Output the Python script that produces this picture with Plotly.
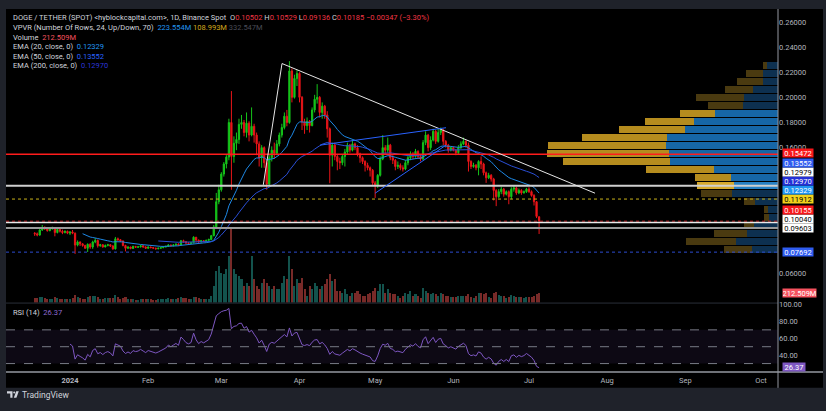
import plotly.graph_objects as go
import pandas as pd

# ---------------- DATA ----------------
START_DATE = "2023-12-18"
FIRST_OPEN = 0.0920
LAST_OPEN = 0.10502

CLOSE_DEC = [0.0915,0.0905,0.0945,0.0965,0.0955,0.0940,0.0955,0.0962,0.0925,0.0950,0.0935,0.0925,0.0935,0.0920]
HIGH_DEC  = [0.0928,0.0925,0.0952,0.0985,0.0975,0.0962,0.0963,0.0972,0.0966,0.0958,0.0955,0.0948,0.0942,0.0940]
LOW_DEC   = [0.0898,0.0895,0.0900,0.0938,0.0945,0.0932,0.0935,0.0948,0.0895,0.0918,0.0925,0.0912,0.0918,0.0912]

CLOSE_JAN = [0.0930,0.0920,0.0825,0.0850,0.0835,0.0822,0.0800,0.0832,0.0810,0.0850,0.0862,0.0820,0.0828,0.0810,0.0822,0.0828,
             0.0818,0.0795,0.0875,0.0868,0.0858,0.0822,0.0800,0.0810,0.0798,0.0815,0.0808,0.0811,0.0820,0.0810,0.0800]
HIGH_JAN  = [0.0935,0.0945,0.0925,0.0862,0.0855,0.0840,0.0828,0.0838,0.0840,0.0860,0.0880,0.0870,0.0835,0.0832,0.0830,0.0835,
             0.0832,0.0825,0.0890,0.0885,0.0872,0.0862,0.0828,0.0815,0.0812,0.0820,0.0818,0.0816,0.0826,0.0825,0.0815]
LOW_JAN   = [0.0905,0.0912,0.0755,0.0815,0.0818,0.0812,0.0795,0.0770,0.0795,0.0795,0.0840,0.0805,0.0812,0.0805,0.0808,0.0815,
             0.0810,0.0788,0.0790,0.0858,0.0850,0.0815,0.0775,0.0795,0.0792,0.0795,0.0803,0.0802,0.0806,0.0805,0.0795]

CLOSE_FEB = [0.0810,0.0805,0.0801,0.0796,0.0800,0.0805,0.0810,0.0815,0.0826,0.0820,0.0826,0.0832,0.0826,0.0860,0.0852,
             0.0842,0.0838,0.0843,0.0888,0.0865,0.0850,0.0860,0.0855,0.0863,0.0870,0.0900,0.0970,0.1170,0.1265]
HIGH_FEB  = [0.0814,0.0813,0.0808,0.0804,0.0806,0.0809,0.0814,0.0820,0.0832,0.0829,0.0832,0.0838,0.0840,0.0866,0.0868,
             0.0858,0.0848,0.0850,0.0895,0.0890,0.0868,0.0866,0.0864,0.0868,0.0876,0.0906,0.0985,0.1240,0.1305]
LOW_FEB   = [0.0796,0.0800,0.0797,0.0790,0.0792,0.0797,0.0800,0.0807,0.0812,0.0816,0.0816,0.0818,0.0818,0.0822,0.0845,
             0.0835,0.0826,0.0834,0.0840,0.0845,0.0836,0.0846,0.0848,0.0850,0.0858,0.0862,0.0895,0.0955,0.1150]

CLOSE_MAR = [0.1390,0.1470,0.1525,0.1800,0.1530,0.1635,0.1665,0.1785,0.1800,0.1720,0.1795,0.1700,0.1770,0.1700,0.1630,0.1520,
             0.1600,0.1480,0.1310,0.1520,0.1580,0.1555,0.1630,0.1700,0.1760,0.1850,0.1800,0.2210,0.2000,0.2150,0.2190]
HIGH_MAR  = [0.1405,0.1485,0.1540,0.1830,0.2050,0.1690,0.1720,0.1830,0.1860,0.1820,0.1880,0.1810,0.1920,0.1790,0.1720,0.1650,
             0.1620,0.1610,0.1500,0.1540,0.1610,0.1640,0.1660,0.1720,0.1790,0.1880,0.1900,0.2288,0.2230,0.2180,0.2220]
LOW_MAR   = [0.1250,0.1370,0.1435,0.1500,0.1265,0.1480,0.1580,0.1630,0.1750,0.1690,0.1680,0.1650,0.1690,0.1640,0.1540,0.1450,
             0.1440,0.1440,0.1265,0.1300,0.1490,0.1510,0.1540,0.1610,0.1680,0.1745,0.1770,0.1790,0.1960,0.1990,0.2090]

CLOSE_APR = [0.2000,0.1805,0.1775,0.1810,0.1775,0.1900,0.1985,0.2000,0.1880,0.1930,0.1860,0.1750,0.1540,0.1620,0.1530,
             0.1490,0.1480,0.1530,0.1565,0.1620,0.1580,0.1630,0.1600,0.1550,0.1520,0.1490,0.1460,0.1440,0.1420,0.1320]
HIGH_APR  = [0.2200,0.2010,0.1830,0.1840,0.1820,0.1920,0.2020,0.2105,0.2010,0.1960,0.1940,0.1890,0.1760,0.1640,0.1640,
             0.1550,0.1520,0.1550,0.1590,0.1640,0.1630,0.1660,0.1640,0.1620,0.1560,0.1530,0.1500,0.1480,0.1450,0.1430]
LOW_APR   = [0.1960,0.1740,0.1710,0.1740,0.1720,0.1770,0.1880,0.1950,0.1840,0.1830,0.1830,0.1680,0.1317,0.1450,0.1500,
             0.1420,0.1430,0.1460,0.1450,0.1550,0.1560,0.1570,0.1580,0.1530,0.1480,0.1470,0.1410,0.1420,0.1370,0.1300]

CLOSE_MAY = [0.1300,0.1380,0.1510,0.1600,0.1580,0.1620,0.1520,0.1500,0.1450,0.1460,0.1440,0.1430,0.1480,0.1520,0.1550,0.1530,
             0.1570,0.1530,0.1510,0.1640,0.1700,0.1600,0.1660,0.1730,0.1650,0.1720,0.1740,0.1650,0.1620,0.1580,0.1600]
HIGH_MAY  = [0.1335,0.1390,0.1530,0.1700,0.1620,0.1680,0.1630,0.1540,0.1510,0.1490,0.1475,0.1460,0.1500,0.1540,0.1570,0.1565,
             0.1590,0.1580,0.1545,0.1660,0.1730,0.1710,0.1690,0.1750,0.1740,0.1750,0.1760,0.1750,0.1660,0.1630,0.1610]
LOW_MAY   = [0.1200,0.1280,0.1370,0.1500,0.1550,0.1560,0.1500,0.1470,0.1420,0.1430,0.1420,0.1410,0.1420,0.1460,0.1500,0.1510,
             0.1520,0.1510,0.1490,0.1500,0.1620,0.1570,0.1580,0.1650,0.1630,0.1640,0.1700,0.1620,0.1600,0.1560,0.1570]

CLOSE_JUN = [0.1580,0.1560,0.1600,0.1630,0.1650,0.1620,0.1490,0.1450,0.1460,0.1440,0.1490,0.1470,0.1400,0.1360,0.1380,
             0.1350,0.1260,0.1210,0.1250,0.1270,0.1230,0.1250,0.1210,0.1270,0.1280,0.1240,0.1260,0.1240,0.1250,0.1270]
HIGH_JUN  = [0.1610,0.1590,0.1620,0.1650,0.1680,0.1660,0.1640,0.1500,0.1480,0.1470,0.1500,0.1530,0.1480,0.1410,0.1400,
             0.1390,0.1360,0.1270,0.1270,0.1290,0.1280,0.1260,0.1260,0.1285,0.1300,0.1290,0.1275,0.1270,0.1260,0.1280]
LOW_JUN   = [0.1570,0.1540,0.1550,0.1590,0.1620,0.1600,0.1410,0.1430,0.1440,0.1420,0.1380,0.1430,0.1380,0.1320,0.1350,
             0.1330,0.1180,0.1135,0.1200,0.1230,0.1210,0.1220,0.1150,0.1190,0.1250,0.1225,0.1230,0.1225,0.1235,0.1240]

CLOSE_JUL = [0.1250,0.1220,0.1170,0.105324,0.10185]
HIGH_JUL  = [0.1285,0.1260,0.1230,0.1175,0.10529]
LOW_JUL   = [0.1240,0.1210,0.1140,0.1040,0.09136]

# daily volume, millions
VOL_DEC = [100,95,110,120,90,80,75,85,110,90,85,80,70,75]
VOL_JAN = [80,90,160,120,100,80,75,120,140,150,150,130,80,85,90,95,90,100,170,110,80,100,120,85,80,85,60,65,80,80,85]
VOL_FEB = [80,75,60,60,75,75,80,85,90,70,70,85,90,120,100,90,75,70,130,110,95,85,80,70,80,150,360,680,790]
VOL_MAR = [640,610,720,1000,1570,720,610,570,500,360,430,360,1000,500,360,300,430,500,430,360,300,360,300,300,430,570,500,1000,720,360,500]
VOL_APR = [430,530,300,150,360,300,430,360,300,360,400,510,620,470,510,255,255,210,300,190,150,210,210,255,190,150,150,190,210,255]
VOL_MAY = [320,255,400,400,210,300,210,190,190,150,105,150,210,190,255,150,190,150,105,320,255,210,190,210,190,150,210,190,150,150,130]
VOL_JUN = [110,120,150,140,150,150,190,130,100,140,210,210,190,210,110,100,210,230,170,150,140,100,130,170,140,120,120,130,90,110]
VOL_JUL = [130,120,150,190,212.509]

# Volume profile (24 rows, bottom -> top), up (blue) and down (yellow) volume
VP_UP   = [25.7,41.7,30.7,24.3,9.3,10.0,23.3,46.0,44.3,47.3,64.3,107.7,109.0,112.3,111.0,92.7,84.3,62.7,35.0,34.3,25.0,15.0,15.0,10.7]
VP_DOWN = [28.7,50.0,33.7,10.0,4.7,4.3,11.0,31.3,36.7,36.0,67.3,107.3,122.0,117.7,84.7,66.3,49.0,35.7,35.0,48.0,27.7,26.0,16.7,4.3]
VA_ROWS = list(range(8, 18))
HOVER_ROW = 8

# horizontal price levels
LEVELS = [
    (0.15472, "#ff1c1c", 1.5, "solid"),
    (0.12979, "#cfcfcf", 2.0, "solid"),
    (0.11912, "#c9b21a", 1.0, "dot"),
    (0.10155, "#c3161c", 1.0, "dot"),
    (0.10040, "#e8e8e8", 1.5, "solid"),
    (0.09603, "#9a9a9a", 2.0, "solid"),
    (0.07692, "#2c4bd0", 1.0, "dot"),
]
# trend line drawings (date, price)
TREND_WHITE = [("2024-03-17 15:36", 0.13043), ("2024-03-25 01:30", 0.22688), ("2024-07-27 04:30", 0.12380)]
TREND_BLUE = [
    [("2024-04-09 03:00", 0.16197), ("2024-05-29 02:24", 0.17585)],
    [("2024-05-01 00:00", 0.12380), ("2024-05-29 02:24", 0.16200)],
]

# values shown in legend / price scale
EMA_LAST = {20: 0.12329, 50: 0.13552, 200: 0.12970}
RSI_LAST = 26.37
VPVR_LEG = ("223.554M", "108.993M", "332.547M")
AXIS_LABELS = [
    (0.15472, "#f7171a", "#ffffff"),
    (0.13552, "#2f5cf0", "#ffffff"),
    (0.12979, "#ffffff", "#000000"),
    (0.12970, "#2430d8", "#ffffff"),
    (0.12329, "#2196f3", "#ffffff"),
    (0.11912, "#f2d21b", "#000000"),
    (0.10155, "#f7171a", "#ffffff"),
    (0.10040, "#ffffff", "#000000"),
    (0.09603, "#ffffff", "#000000"),
    (0.07692, "#2f5cf0", "#ffffff"),
]
PRICE_TICKS = [0.06, 0.16, 0.18, 0.20, 0.22, 0.24, 0.26]
RSI_TICKS = [40, 60, 80, 100]
MONTH_TICKS = ["2024-01-01","2024-02-01","2024-03-01","2024-04-01","2024-05-01","2024-06-01",
               "2024-07-01","2024-08-01","2024-09-01","2024-10-01"]
MONTH_TEXT = ["<b>2024</b>","Feb","Mar","Apr","May","Jun","Jul","Aug","Sep","Oct"]

# ---------------- assemble ----------------
CLOSE = CLOSE_DEC + CLOSE_JAN + CLOSE_FEB + CLOSE_MAR + CLOSE_APR + CLOSE_MAY + CLOSE_JUN + CLOSE_JUL
HIGH = HIGH_DEC + HIGH_JAN + HIGH_FEB + HIGH_MAR + HIGH_APR + HIGH_MAY + HIGH_JUN + HIGH_JUL
LOW = LOW_DEC + LOW_JAN + LOW_FEB + LOW_MAR + LOW_APR + LOW_MAY + LOW_JUN + LOW_JUL
VOL = VOL_DEC + VOL_JAN + VOL_FEB + VOL_MAR + VOL_APR + VOL_MAY + VOL_JUN + VOL_JUL
OPEN = [FIRST_OPEN] + CLOSE[:-1]
OPEN[-1] = LAST_OPEN
N = len(CLOSE)
assert len(HIGH) == N and len(LOW) == N and len(VOL) == N
DATES = pd.date_range(START_DATE, periods=N, freq="D")


def ema_tv(src, n):
    out = [None] * len(src)
    if len(src) < n:
        return out
    v = sum(src[:n]) / n
    out[n - 1] = v
    a = 2.0 / (n + 1)
    for i in range(n, len(src)):
        v = a * src[i] + (1 - a) * v
        out[i] = v
    return out


def rsi_tv(src, n=14):
    out = [None] * len(src)
    g = [0.0] + [max(src[i] - src[i - 1], 0) for i in range(1, len(src))]
    l = [0.0] + [max(src[i - 1] - src[i], 0) for i in range(1, len(src))]
    ag = sum(g[1:n + 1]) / n
    al = sum(l[1:n + 1]) / n
    out[n] = 100 - 100 / (1 + ag / al) if al else 100
    for i in range(n + 1, len(src)):
        ag = (ag * (n - 1) + g[i]) / n
        al = (al * (n - 1) + l[i]) / n
        out[i] = 100 - 100 / (1 + ag / al) if al else 100
    return out


EMA20 = ema_tv(CLOSE, 20)
EMA50 = ema_tv(CLOSE, 50)
RSI = rsi_tv(CLOSE, 14)

# ---------------- geometry ----------------
W, H = 826, 411
PL, PR, PT, PB = 6, 778, 6, 372
MAIN_BOT, RSI_TOP = 302, 303
P_RANGE = [0.03681, 0.27025]
RSI_RANGE = [20, 101.2]
VOL_TOP = 21.25 * (MAIN_BOT - PT)
X_RANGE = ["2023-12-06 14:53", "2024-10-07 17:46"]


def PX(x):
    return (x - PL) / (PR - PL)


def PY(y):
    return (PB - y) / (PB - PT)


def price_px(p):
    return PT + (P_RANGE[1] - p) / (P_RANGE[1] - P_RANGE[0]) * (MAIN_BOT - PT)


UI = "#d1d4dc"
AX = "#b2b5be"
FONT = "Roboto"
FS = 7.5

fig = go.Figure()

# volume profile
lo, hi = min(LOW), max(HIGH)
step = (hi - lo) / len(VP_UP)
centers = [lo + (i + 0.5) * step for i in range(len(VP_UP))]
up_col, dn_col = [], []
for i in range(len(VP_UP)):
    if i == HOVER_ROW:
        up_col.append("rgb(38,128,196)"); dn_col.append("rgb(214,170,46)")
    elif i in VA_ROWS:
        up_col.append("rgb(22,102,166)"); dn_col.append("rgb(181,140,30)")
    else:
        up_col.append("rgb(13,48,80)"); dn_col.append("rgb(74,58,16)")
fig.add_trace(go.Bar(orientation="h", y=centers, x=VP_UP, base=[0] * len(VP_UP), width=step * 0.86,
                     marker=dict(color=up_col, line=dict(width=0)), xaxis="x2", yaxis="y", hoverinfo="skip"))
fig.add_trace(go.Bar(orientation="h", y=centers, x=VP_DOWN, base=VP_UP, width=step * 0.86,
                     marker=dict(color=dn_col, line=dict(width=0)), xaxis="x2", yaxis="y", hoverinfo="skip"))

# volume bars
vcol = ["rgba(38,166,154,0.5)" if c >= o else "rgba(239,83,80,0.5)" for o, c in zip(OPEN, CLOSE)]
fig.add_trace(go.Bar(x=DATES, y=VOL, marker=dict(color=vcol, line=dict(width=0)), width=86400000 * 0.8,
                     xaxis="x", yaxis="y3", hoverinfo="skip"))

# candles
fig.add_trace(go.Candlestick(x=DATES, open=OPEN, high=HIGH, low=LOW, close=CLOSE,
                             increasing=dict(line=dict(color="#15c41a", width=1), fillcolor="#15c41a"),
                             decreasing=dict(line=dict(color="#ea1519", width=1), fillcolor="#ea1519"),
                             xaxis="x", yaxis="y", hoverinfo="skip"))
# EMAs
fig.add_trace(go.Scatter(x=DATES, y=EMA20, mode="lines", line=dict(color="#1e88e5", width=1), xaxis="x", yaxis="y"))
fig.add_trace(go.Scatter(x=DATES, y=EMA50, mode="lines", line=dict(color="#2a4fd6", width=1), xaxis="x", yaxis="y"))

# RSI
fig.add_trace(go.Scatter(x=DATES, y=RSI, mode="lines", line=dict(color="#7e57c2", width=1), xaxis="x3", yaxis="y4"))

shapes = []
# black chart background including axis areas
shapes.append(dict(type="rect", xref="paper", yref="paper", x0=0, x1=PX(823), y0=PY(388), y1=1,
                   fillcolor="#000000", line=dict(width=0), layer="below"))
# RSI band and levels
shapes.append(dict(type="rect", xref="paper", yref="y4", x0=0, x1=1, y0=30, y1=70,
                   fillcolor="rgba(126,87,194,0.10)", line=dict(width=0), layer="below"))
for lv in (70, 50, 30):
    shapes.append(dict(type="line", xref="paper", yref="y4", x0=0, x1=1, y0=lv, y1=lv,
                       line=dict(color="#787b86", width=1, dash="dash")))
# price levels
for p, c, w, d in LEVELS:
    shapes.append(dict(type="line", xref="paper", yref="y", x0=0, x1=1, y0=p, y1=p,
                       line=dict(color=c, width=w, dash=d)))
# trend lines
for (x0, y0), (x1, y1) in zip(TREND_WHITE[:-1], TREND_WHITE[1:]):
    shapes.append(dict(type="line", xref="x", yref="y", x0=x0, y0=y0, x1=x1, y1=y1,
                       line=dict(color="#e6e6e6", width=1)))
for (x0, y0), (x1, y1) in TREND_BLUE:
    shapes.append(dict(type="line", xref="x", yref="y", x0=x0, y0=y0, x1=x1, y1=y1,
                       line=dict(color="#2962ff", width=1)))
# pane separators and axis lines
shapes.append(dict(type="line", xref="paper", yref="paper", x0=0, x1=1, y0=PY(302.5), y1=PY(302.5),
                   line=dict(color="#2a2e39", width=1)))
shapes.append(dict(type="line", xref="paper", yref="paper", x0=0, x1=PX(823), y0=PY(372), y1=PY(372),
                   line=dict(color="#9598a1", width=1.5)))
shapes.append(dict(type="line", xref="paper", yref="paper", x0=1, x1=1, y0=PY(388), y1=1,
                   line=dict(color="#9598a1", width=1)))
# TradingView logo glyph
def P(x, y):
    return f"{PX(x):.5f},{PY(y):.5f}"
shapes.append(dict(type="path", xref="paper", yref="paper",
                   path=f"M{P(7,391.5)} L{P(12.5,391.5)} L{P(12.5,398)} L{P(10.3,398)} L{P(10.3,393.6)} L{P(7,393.6)} Z",
                   fillcolor=UI, line=dict(width=0)))
shapes.append(dict(type="circle", xref="paper", yref="paper", x0=PX(13.2), x1=PX(15.2), y0=PY(393.6), y1=PY(391.6),
                   fillcolor=UI, line=dict(width=0)))
shapes.append(dict(type="path", xref="paper", yref="paper",
                   path=f"M{P(16.2,391.5)} L{P(18.8,391.5)} L{P(16.4,398)} L{P(13.8,398)} Z",
                   fillcolor=UI, line=dict(width=0)))

ann = []
# legend lines
red = "#f23645"
o, h, l, c = OPEN[-1], HIGH[-1], LOW[-1], CLOSE[-1]
chg = c - CLOSE[-2]
pct = chg / CLOSE[-2] * 100
sp = lambda col, t: f'<span style="color:{col}">{t}</span>'
leg = [
    "DOGE / TETHER (SPOT) &lt;hyblockcapital.com&gt;, 1D, Binance Spot  "
    + "O" + sp(red, f"{o:.5f}") + " H" + sp(red, f"{h:.5f}") + " L" + sp(red, f"{l:.5f}")
    + " C" + sp(red, f"{c:.5f}") + " " + sp(red, f"\u2212{abs(chg):.5f} (\u2212{abs(pct):.2f}%)"),
    "VPVR (Number Of Rows, 24, Up/Down, 70)  " + sp("#2196f3", VPVR_LEG[0]) + " "
    + sp("#d4a81c", VPVR_LEG[1]) + " " + sp("#4a4d57", VPVR_LEG[2]),
    "Volume  " + sp("#f7525f", f"{VOL[-1]:.3f}M"),
    "EMA (20, close, 0)  " + sp("#2196f3", f"{EMA_LAST[20]:.5f}"),
    "EMA (50, close, 0)  " + sp("#2962ff", f"{EMA_LAST[50]:.5f}"),
    "EMA (200, close, 0)  " + sp("#2b35d8", f"{EMA_LAST[200]:.5f}"),
]
for i, t in enumerate(leg):
    ann.append(dict(text=t, xref="paper", yref="paper", x=PX(11), y=PY(15 + 9.65 * i), xanchor="left",
                    yanchor="middle", showarrow=False, font=dict(family=FONT, size=FS, color=UI)))
ann.append(dict(text="RSI (14)  " + sp("#8e6bd0", f"{RSI_LAST:.2f}"), xref="paper", yref="paper",
                x=PX(11), y=PY(311.7), xanchor="left", yanchor="middle", showarrow=False,
                font=dict(family=FONT, size=FS, color=UI)))
ann.append(dict(text="TradingView", xref="paper", yref="paper", x=PX(20), y=PY(395), xanchor="left",
                yanchor="middle", showarrow=False, font=dict(family=FONT, size=8.5, color=UI)))

# price scale labels, stacked bottom-up to avoid overlap
LBL_H = 9.2
prev = None
for p, bg, fg in sorted(AXIS_LABELS, key=lambda r: r[0]):
    ypx = price_px(p)
    if prev is not None:
        ypx = min(ypx, prev - LBL_H)
    prev = ypx
    ann.append(dict(text=f"{p:.5f}", xref="paper", yref="paper", x=PX(781.5), y=PY(ypx), xanchor="left",
                    yanchor="middle", showarrow=False, bgcolor=bg, width=30, height=8.2, borderpad=0,
                    align="center", font=dict(family=FONT, size=FS, color=fg)))
ann.append(dict(text=f"{VOL[-1]:.3f}M", xref="paper", yref="y3", x=PX(781.5), y=VOL[-1], xanchor="left",
                yanchor="middle", showarrow=False, bgcolor="#f7525f", width=33, height=8.2, borderpad=0,
                align="center", font=dict(family=FONT, size=FS, color="#ffffff")))
ann.append(dict(text=f"{RSI_LAST:.2f}", xref="paper", yref="y4", x=PX(781.5), y=RSI_LAST, xanchor="left",
                yanchor="middle", showarrow=False, bgcolor="#7e57c2", width=22, height=8.2, borderpad=0,
                align="center", font=dict(family=FONT, size=FS, color="#ffffff")))

main_dom = [(PB - MAIN_BOT) / (PB - PT), 1]
rsi_dom = [0, (PB - RSI_TOP) / (PB - PT)]

fig.update_layout(
    width=W, height=H, autosize=False,
    margin=dict(l=PL, r=W - PR, t=PT, b=H - PB),
    paper_bgcolor="#1f222a", plot_bgcolor="#000000",
    showlegend=False, barmode="overlay", bargap=0,
    font=dict(family=FONT, size=FS, color=AX),
    xaxis=dict(domain=[0, 1], anchor="y", range=X_RANGE, type="date", showticklabels=False, showgrid=False,
               zeroline=False, rangeslider=dict(visible=False), showline=False),
    xaxis2=dict(overlaying="x", range=[PR - PL, 0], visible=False, anchor="y"),
    xaxis3=dict(domain=[0, 1], anchor="y4", matches="x", type="date", tickmode="array", tickvals=MONTH_TICKS,
                ticktext=MONTH_TEXT, showgrid=False, zeroline=False, ticks="", showline=False,
                ticklabelstandoff=2, tickfont=dict(family=FONT, size=FS, color=AX)),
    yaxis=dict(domain=main_dom, anchor="x", side="right", range=P_RANGE, tickmode="array", tickvals=PRICE_TICKS,
               ticktext=[f"{v:.5f}" for v in PRICE_TICKS], showgrid=False, zeroline=False, ticks="",
               tickfont=dict(family=FONT, size=FS, color=AX)),
    yaxis3=dict(overlaying="y", range=[0, VOL_TOP], visible=False),
    yaxis4=dict(domain=rsi_dom, anchor="x3", side="right", range=RSI_RANGE, tickmode="array", tickvals=RSI_TICKS,
                ticktext=[f"{v:.2f}" for v in RSI_TICKS], showgrid=False, zeroline=False, ticks="",
                tickfont=dict(family=FONT, size=FS, color=AX)),
    shapes=shapes, annotations=ann,
)
fig.write_html("out.html")
